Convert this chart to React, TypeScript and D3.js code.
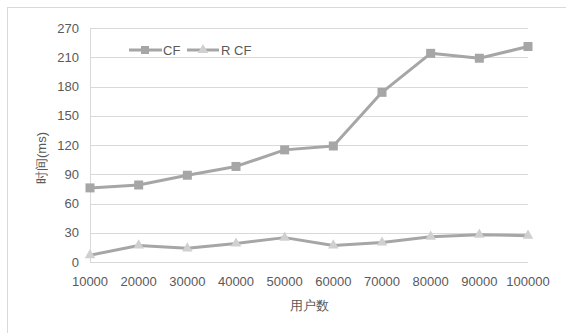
import { useEffect, useRef } from 'react';
import * as d3 from 'd3';

const categories = ['10000', '20000', '30000', '40000', '50000', '60000', '70000', '80000', '90000', '100000'];
const cfValues = [76, 79, 89, 98, 115, 119, 174, 214, 209, 221];
const rcfValues = [7, 17, 14, 19, 25, 17, 20, 26, 28, 27];
const yTicks = [0, 30, 60, 90, 120, 150, 180, 210, 240];
const yTickLabels = ['0', '30', '60', '90', '120', '150', '180', '210', '270'];

const App = () => {
  const svgRef = useRef<SVGSVGElement | null>(null);

  const width = 566;
  const height = 333;
  const marginTop = 28;
  const marginRight = 38;
  const marginBottom = 71;
  const marginLeft = 90;

  useEffect(() => {
    const svgElement = svgRef.current;
    if (!svgElement) return;

    const svg = d3.select(svgElement);
    svg.selectAll('*').remove();

    const font = '"Liberation Sans", Arial, sans-serif';
    const lineColor = '#a6a6a6';
    const gridColor = '#d9d9d9';
    const textColor = '#595959';

    // outer chart frame
    svg.append('rect')
      .attr('x', 7.5).attr('y', 7.5)
      .attr('width', width + 20).attr('height', height + 20)
      .attr('fill', 'white').attr('stroke', gridColor);

    const x = d3.scalePoint<string>()
      .domain(categories)
      .range([marginLeft, width - marginRight]);

    const y = d3.scaleLinear()
      .domain([0, 240])
      .range([height - marginBottom, marginTop]);

    // gridlines
    svg.append('g')
      .selectAll('line')
      .data(yTicks)
      .join('line')
      .attr('x1', marginLeft)
      .attr('x2', width - marginRight)
      .attr('y1', d => Math.round(y(d)) + 0.5)
      .attr('y2', d => Math.round(y(d)) + 0.5)
      .attr('stroke', gridColor);

    svg.append('line')
      .attr('x1', marginLeft + 0.5).attr('x2', marginLeft + 0.5)
      .attr('y1', y(240)).attr('y2', y(0))
      .attr('stroke', gridColor);

    // y tick labels
    svg.append('g')
      .selectAll('text')
      .data(yTicks)
      .join('text')
      .attr('x', marginLeft - 11)
      .attr('y', d => y(d))
      .attr('dy', '0.35em')
      .attr('text-anchor', 'end')
      .attr('font-family', font)
      .attr('font-size', 13)
      .attr('fill', textColor)
      .text((_, i) => yTickLabels[i]);

    // x tick labels
    svg.append('g')
      .selectAll('text')
      .data(categories)
      .join('text')
      .attr('x', d => x(d) ?? 0)
      .attr('y', y(0) + 19)
      .attr('dy', '0.35em')
      .attr('text-anchor', 'middle')
      .attr('font-family', font)
      .attr('font-size', 13)
      .attr('fill', textColor)
      .text(d => d);

    // axis titles
    svg.append('text')
      .attr('x', (marginLeft + width - marginRight) / 2)
      .attr('y', 305)
      .attr('dy', '0.35em')
      .attr('text-anchor', 'middle')
      .attr('font-family', font)
      .attr('font-size', 13)
      .attr('fill', textColor)
      .text('用户数');

    svg.append('text')
      .attr('transform', 'translate(41,158) rotate(-90)')
      .attr('dy', '0.35em')
      .attr('text-anchor', 'middle')
      .attr('font-family', font)
      .attr('font-size', 13)
      .attr('fill', textColor)
      .text('时间(ms)');

    const line = d3.line<number>()
      .x((_, i) => x(categories[i]) ?? 0)
      .y(d => y(d));

    const triangle = d3.symbol().type(d3.symbolTriangle).size(48);

    // CF series
    svg.append('path')
      .datum(cfValues)
      .attr('fill', 'none')
      .attr('stroke', lineColor)
      .attr('stroke-width', 3)
      .attr('stroke-linejoin', 'round')
      .attr('d', line);

    svg.append('g')
      .selectAll('rect')
      .data(cfValues)
      .join('rect')
      .attr('x', (_, i) => (x(categories[i]) ?? 0) - 4.5)
      .attr('y', d => y(d) - 4.5)
      .attr('width', 9)
      .attr('height', 9)
      .attr('fill', lineColor);

    // R CF series
    svg.append('path')
      .datum(rcfValues)
      .attr('fill', 'none')
      .attr('stroke', lineColor)
      .attr('stroke-width', 3)
      .attr('stroke-linejoin', 'round')
      .attr('d', line);

    svg.append('g')
      .selectAll('path')
      .data(rcfValues)
      .join('path')
      .attr('transform', (d, i) => `translate(${x(categories[i]) ?? 0},${y(d)})`)
      .attr('d', triangle)
      .attr('fill', '#d0d0d0');

    // legend
    const legend = svg.append('g').attr('font-family', font).attr('font-size', 13).attr('fill', textColor);
    legend.append('line')
      .attr('x1', 129).attr('x2', 162).attr('y1', 50).attr('y2', 50)
      .attr('stroke', lineColor).attr('stroke-width', 3);
    legend.append('rect')
      .attr('x', 141).attr('y', 46).attr('width', 8).attr('height', 8)
      .attr('fill', lineColor);
    legend.append('text')
      .attr('x', 163).attr('y', 50).attr('dy', '0.35em').text('CF');

    legend.append('line')
      .attr('x1', 187).attr('x2', 219).attr('y1', 50).attr('y2', 50)
      .attr('stroke', lineColor).attr('stroke-width', 3);
    legend.append('path')
      .attr('transform', 'translate(203,50)')
      .attr('d', triangle)
      .attr('fill', '#d0d0d0');
    legend.append('text')
      .attr('x', 221).attr('y', 50).attr('dy', '0.35em').text('R CF');
  }, []);

  return (
    <svg
      ref={svgRef}
      width={width}
      height={height}
      style={{ display: 'block', position: 'absolute', left: 0, top: 0 }}
    />
  );
};

export default App;
